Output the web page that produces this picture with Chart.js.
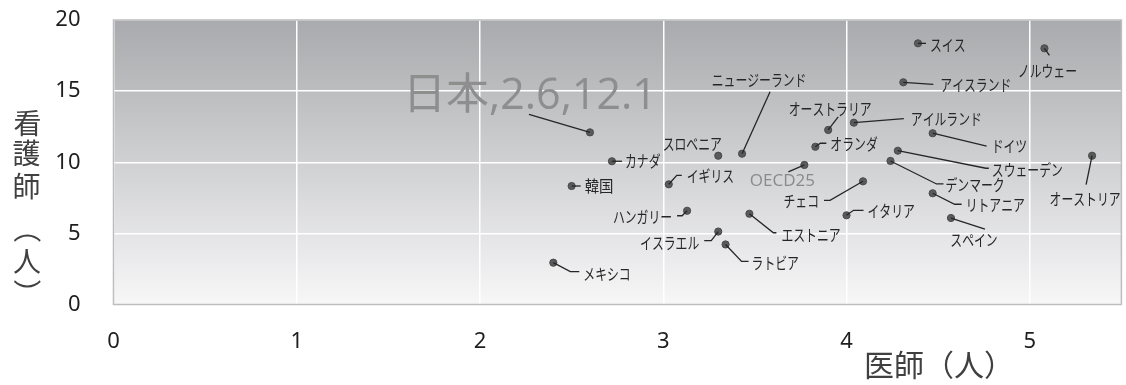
<!DOCTYPE html>
<html lang="ja">
<head>
<meta charset="utf-8">
<script src="https://cdn.jsdelivr.net/npm/chart.js@4.4.1/dist/chart.umd.min.js"></script>
<style>
  html, body { margin: 0; padding: 0; background: #ffffff; }
  #wrap { width: 1126px; height: 385px; position: relative; }
</style>
</head>
<body>
<div id="wrap"><canvas id="c" width="1126" height="385"></canvas></div>
<script>
// 人口千人当たりの医師数と看護師数
const countries = ['日本', 'カナダ', '韓国', 'スロベニア', 'ニュージーランド', 'イギリス', 'ハンガリー',
  'イスラエル', 'ラトビア', 'メキシコ', 'エストニア', 'OECD25', 'チェコ', 'イタリア', 'オランダ',
  'オーストラリア', 'アイルランド', 'アイスランド', 'スイス', 'ノルウェー', 'ドイツ', 'スウェーデン',
  'デンマーク', 'リトアニア', 'スペイン', 'オーストリア'];
const doctors = [2.6, 2.72, 2.5, 3.3, 3.43, 3.03, 3.13,
  3.3, 3.34, 2.4, 3.47, 3.77, 4.09, 4.0, 3.83,
  3.9, 4.04, 4.31, 4.39, 5.08, 4.47, 4.28,
  4.24, 4.47, 4.57, 5.34];
const nurses = [12.1, 10.07, 8.33, 10.46, 10.6, 8.45, 6.59,
  5.13, 4.22, 2.94, 6.38, 9.81, 8.66, 6.27, 11.09,
  12.27, 12.78, 15.62, 18.36, 18.01, 12.04, 10.81,
  10.09, 7.82, 6.08, 10.46];
const xTicks = [0, 1, 2, 3, 4, 5];
const yTicks = [0, 5, 10, 15, 20];
const xTitle = '医師（人）';
const yTitle = '看護師（人）';

// ラベルの配置（点からの相対位置, px）と引き出し線
const labelLayout = {
  '日本':           { path: [[-61, -18]], text: [-60, -36], align: 'center', style: 'big' },
  'カナダ':         { path: [[10, 0]], text: [13, 0], align: 'left' },
  '韓国':           { path: [[9, 0]], text: [13, 0], align: 'left' },
  'スロベニア':     { path: [], text: [-26, -12], align: 'center' },
  'ニュージーランド': { path: [[28, -62]], text: [17, -74], align: 'center' },
  'イギリス':       { path: [[8, -9], [13, -9]], text: [18, -8], align: 'left' },
  'ハンガリー':     { path: [[-5, 5], [-10, 5]], text: [-15, 6], align: 'right' },
  'イスラエル':     { path: [[-7, 9], [-14, 9]], text: [-19, 11], align: 'right' },
  'ラトビア':       { path: [[16, 17], [23, 17]], text: [26, 18], align: 'left' },
  'メキシコ':       { path: [[17, 9], [26, 9]], text: [30, 11], align: 'left' },
  'エストニア':     { path: [[24, 19], [27, 19]], text: [32, 21], align: 'left' },
  'OECD25':         { path: [[-16, 7]], text: [-22, 16], align: 'center', style: 'gray' },
  'チェコ':         { path: [[-33, 19], [-39, 19]], text: [-44, 20], align: 'right' },
  'イタリア':       { path: [[7, -5], [17, -5]], text: [21, -4], align: 'left' },
  'オランダ':       { path: [[5, -3.5], [11, -3.5]], text: [15, -3], align: 'left' },
  'オーストラリア': { path: [[10, -13]], text: [2, -21], align: 'center' },
  'アイルランド':   { path: [[50, -4]], text: [57, -4], align: 'left' },
  'アイスランド':   { path: [[30, 2]], text: [37, 3], align: 'left' },
  'スイス':         { path: [[8, 0]], text: [12, 1.5], align: 'left' },
  'ノルウェー':     { path: [[5, 7]], text: [3, 23], align: 'center' },
  'ドイツ':         { path: [[54, 13]], text: [59, 13], align: 'left' },
  'スウェーデン':   { path: [[88, 17.5], [91, 17.5]], text: [94, 19], align: 'left' },
  'デンマーク':     { path: [[46, 23], [53, 23]], text: [55, 23.5], align: 'left' },
  'リトアニア':     { path: [[22, 11], [29, 11]], text: [33, 12], align: 'left' },
  'スペイン':       { path: [[34, 11]], text: [23, 22], align: 'center' },
  'オーストリア':   { path: [[-6, 29]], text: [-7, 43], align: 'center' }
};

const JP = '"Noto Sans CJK JP", "Noto Sans", sans-serif';
const KANA = /[\u30A0-\u30FF]/;

// 文字のインク中心を指定位置に合わせて描く
function drawInkCentered(ctx, ch, cx, cy, rot) {
  ctx.save();
  ctx.textAlign = 'left';
  ctx.textBaseline = 'alphabetic';
  const m = ctx.measureText(ch);
  const icx = (m.actualBoundingBoxRight - m.actualBoundingBoxLeft) / 2;
  const icy = (m.actualBoundingBoxDescent - m.actualBoundingBoxAscent) / 2;
  ctx.translate(cx, cy);
  ctx.rotate(rot);
  ctx.fillText(ch, -icx, -icy);
  ctx.restore();
}

const plotBackground = {
  id: 'plotBackground',
  beforeDraw(chart) {
    const { ctx, chartArea: a } = chart;
    const g = ctx.createLinearGradient(0, a.top, 0, a.bottom);
    g.addColorStop(0, '#a9aaad');
    g.addColorStop(1, '#f7f7f8');
    ctx.save();
    ctx.fillStyle = g;
    ctx.fillRect(a.left, a.top, a.right - a.left, a.bottom - a.top);
    ctx.restore();
  },
  beforeDatasetsDraw(chart) {
    const { ctx, chartArea: a } = chart;
    ctx.save();
    ctx.strokeStyle = '#bdbdbd';
    ctx.lineWidth = 1.5;
    ctx.strokeRect(a.left, a.top, a.right - a.left, a.bottom - a.top);
    ctx.restore();
  }
};

const pointLabels = {
  id: 'pointLabels',
  afterDatasetsDraw(chart) {
    const ctx = chart.ctx;
    const meta = chart.getDatasetMeta(0);
    meta.data.forEach((pt, i) => {
      const name = countries[i];
      const L = labelLayout[name];
      if (!L) return;
      const px = pt.x, py = pt.y;
      ctx.save();
      if (L.path.length) {
        ctx.beginPath();
        ctx.moveTo(px, py);
        L.path.forEach(([dx, dy]) => ctx.lineTo(px + dx, py + dy));
        ctx.strokeStyle = '#262626';
        ctx.lineWidth = 1.3;
        ctx.stroke();
      }
      ctx.textBaseline = 'middle';
      ctx.textAlign = L.align;
      const tx = px + L.text[0], ty = py + L.text[1];
      if (L.style === 'big') {
        ctx.fillStyle = '#8e8e8e';
        ctx.font = '43px "Open Sans", "Noto Sans CJK JP", sans-serif';
        ctx.fillText(name + ',' + doctors[i] + ',' + nurses[i], tx, ty);
      } else if (L.style === 'gray') {
        ctx.fillStyle = '#8a8a8a';
        ctx.font = '17px "Open Sans", sans-serif';
        ctx.fillText(name, tx, ty);
      } else {
        // カタカナは幅を詰めて描く
        ctx.fillStyle = '#262626';
        ctx.font = '16px ' + JP;
        ctx.translate(tx, ty);
        ctx.scale(KANA.test(name) ? 0.74 : 0.9, 1);
        ctx.fillText(name, 0, 0);
      }
      ctx.restore();
    });
  },
  afterDraw(chart) {
    const ctx = chart.ctx;
    ctx.save();
    ctx.fillStyle = '#404040';
    // 横軸タイトル
    ctx.font = '30px ' + JP;
    ctx.textAlign = 'center';
    ctx.textBaseline = 'middle';
    ctx.fillText(xTitle, 939, 365);
    // 縦軸タイトル（縦書き）
    ctx.font = '28px ' + JP;
    const chars = Array.from(yTitle);
    const ys = [123, 153, 186, 238, 261, 284];
    chars.forEach((ch, k) => {
      const rot = (ch === '（' || ch === '）') ? Math.PI / 2 : 0;
      drawInkCentered(ctx, ch, 27, ys[k], rot);
    });
    ctx.restore();
  }
};

new Chart(document.getElementById('c'), {
  type: 'scatter',
  data: {
    datasets: [{
      data: doctors.map((d, i) => ({ x: d, y: nurses[i] })),
      backgroundColor: '#5a5a5a',
      borderColor: '#4a4a4a',
      borderWidth: 1,
      pointRadius: 3.6,
      pointHoverRadius: 3.6
    }]
  },
  options: {
    responsive: false,
    animation: false,
    events: [],
    layout: { padding: { left: 0, top: 20, right: 4, bottom: 0 } },
    plugins: { legend: { display: false }, tooltip: { enabled: false } },
    scales: {
      x: {
        type: 'linear', min: 0, max: 5.5,
        afterBuildTicks: s => { s.ticks = xTicks.map(v => ({ value: v })); },
        afterFit: s => { s.height = 80.5; s.paddingLeft = 0; s.paddingRight = 0; },
        grid: { color: '#ffffff', lineWidth: 1.5, drawTicks: false },
        border: { display: false },
        ticks: { color: '#1e1e1e', padding: 24, font: { family: '"Noto Sans", sans-serif', size: 22 } }
      },
      y: {
        type: 'linear', min: 0, max: 20,
        afterBuildTicks: s => { s.ticks = yTicks.map(v => ({ value: v })); },
        afterFit: s => { s.width = 113.5; s.paddingTop = 0; s.paddingBottom = 0; },
        grid: { color: '#ffffff', lineWidth: 1.5, drawTicks: false },
        border: { display: false },
        ticks: { color: '#1e1e1e', padding: 33, font: { family: '"Noto Sans", sans-serif', size: 22 } }
      }
    }
  },
  plugins: [plotBackground, pointLabels]
});
</script>
</body>
</html>
